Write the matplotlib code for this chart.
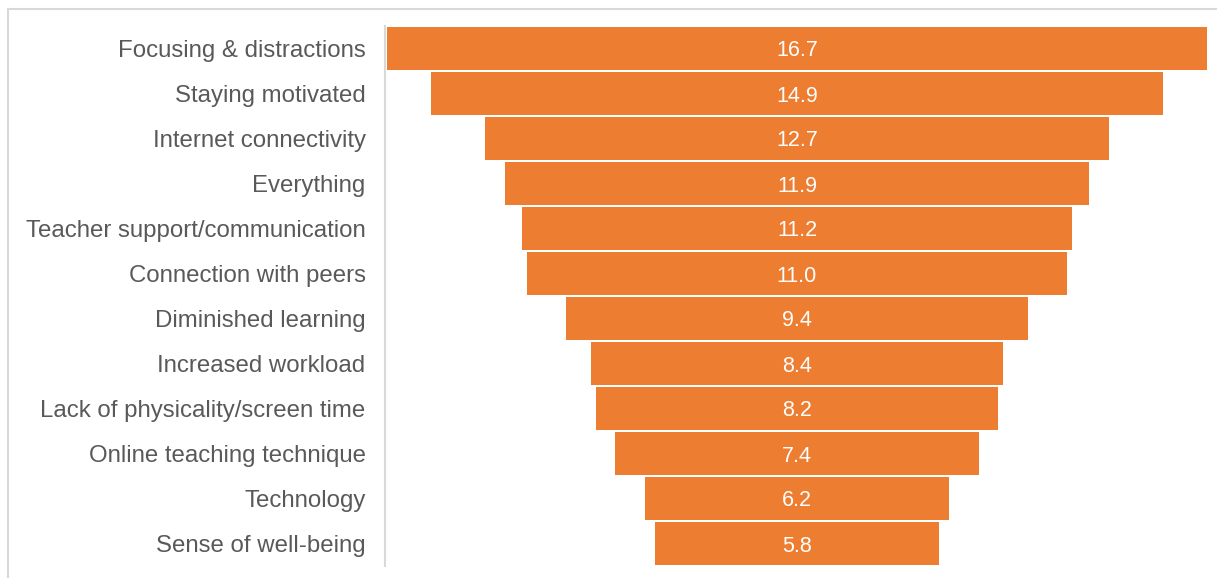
import matplotlib.pyplot as plt
from matplotlib.patches import Rectangle

plt.rcParams['font.family'] = ['Liberation Sans', 'DejaVu Sans']

categories = [
    "Focusing & distractions",
    "Staying motivated",
    "Internet connectivity",
    "Everything",
    "Teacher support/communication",
    "Connection with peers",
    "Diminished learning",
    "Increased workload",
    "Lack of physicality/screen time",
    "Online teaching technique",
    "Technology",
    "Sense of well-being",
]
values = [16.7, 14.9, 12.7, 11.9, 11.2, 11.0, 9.4, 8.4, 8.2, 7.4, 6.2, 5.8]

bar_color = "#ED7D31"
text_gray = "#595959"
line_gray = "#D9D9D9"

fig = plt.figure(figsize=(12.17, 5.78), dpi=100)
ax = fig.add_axes([385 / 1217, 12 / 578, 824 / 1217, 540 / 578])

# funnel: each bar centred on zero
ypos = list(range(len(categories)))
lefts = [-v / 2 for v in values]
ax.barh(ypos, values, left=lefts, height=0.94, color=bar_color)

for y, v in zip(ypos, values):
    ax.text(0, y, f"{v:.1f}", ha="center", va="center_baseline", color="white", fontsize=15.5)

half = 824 / 2 / (820 / 16.7)
ax.set_xlim(-half, half)
ax.set_ylim(len(categories) - 0.5, -0.5)
ax.set_yticks(ypos)
ax.set_yticklabels(categories, fontsize=17.3, color=text_gray)
ax.set_xticks([])
ax.tick_params(axis="y", length=0, pad=14)

for side in ["top", "right", "bottom"]:
    ax.spines[side].set_visible(False)
ax.spines["left"].set_color(line_gray)
ax.spines["left"].set_linewidth(1.5)

# outer chart border
fig.patches.append(Rectangle((8 / 1217, -0.1), 1.2, 1.1 - 9 / 578, transform=fig.transFigure,
                             fill=False, edgecolor=line_gray, linewidth=1.5))

fig.savefig("out.png", dpi=100)
